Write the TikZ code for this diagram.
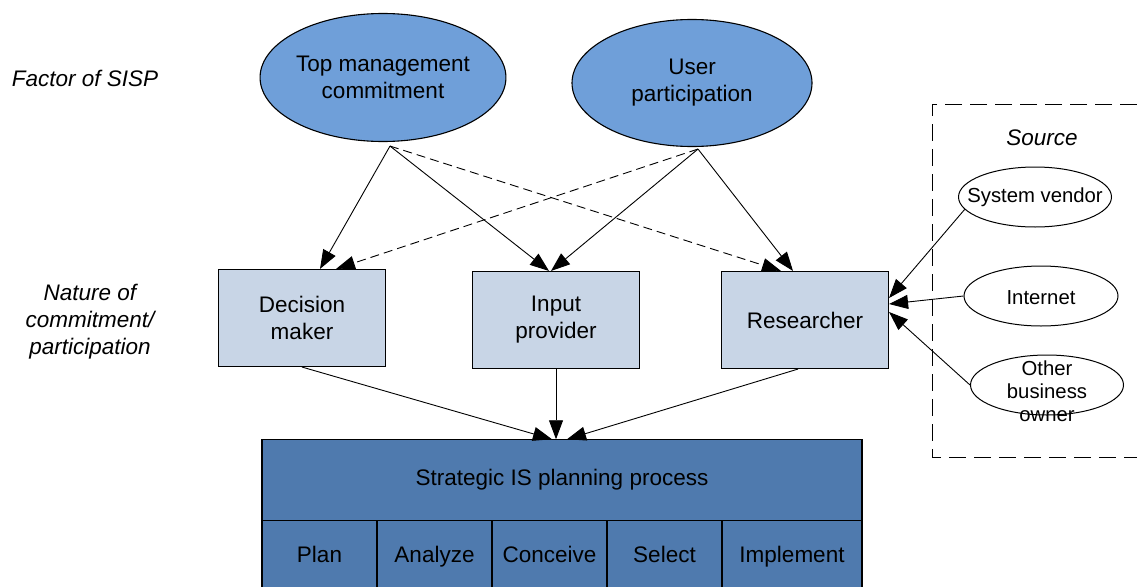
\documentclass[tikz,border=0pt]{standalone}
\usepackage{fontspec}
\setmainfont{Liberation Sans}
\usetikzlibrary{positioning,shapes.geometric,arrows.meta}
\definecolor{factorfill}{HTML}{6F9FD9}
\definecolor{naturefill}{HTML}{C8D5E6}
\definecolor{processfill}{HTML}{4F7AAE}

\begin{document}
\begin{tikzpicture}[x=1pt, y=-1pt,
  bigtext/.style={font=\fontsize{22.5}{27}\selectfont},
  factor/.style={draw, ellipse, fill=factorfill, line width=1.1pt, inner sep=0pt, align=center, bigtext},
  nature/.style={draw, fill=naturefill, line width=1.1pt, minimum width=167pt, minimum height=97pt, align=center, bigtext},
  srcell/.style={draw, ellipse, fill=white, line width=1pt, minimum width=153pt, minimum height=60pt, inner sep=0pt},
  srctext/.style={align=center, inner sep=0pt, font=\fontsize{20.3}{23}\selectfont},
  cell/.style={draw, fill=processfill, line width=1.1pt, minimum height=72pt, inner sep=0pt, outer sep=0pt, text height=16pt, text depth=4pt, bigtext},
  side/.style={align=center, font=\fontsize{22.5}{27}\selectfont\itshape},
  arrow/.style={->, >={Triangle[length=19pt,width=14pt]}, line width=0.9pt},
  dashy/.style={dash pattern=on 9pt off 5pt}
]
\useasboundingbox (0,0) rectangle (1137,586);

\node[side] (factorlbl) at (85,78) {Factor of SISP};
\node[side] (naturelbl) at (90,322) {Nature of\\commitment/\\participation};

\node[factor, minimum width=243pt, minimum height=128pt] (tmc) at (383,77.5) {Top management\\commitment};
\node[factor, minimum width=240pt, minimum height=127pt] (up) at (692,83) {User\\participation};

\node[nature] (dm) at (302,318) {Decision\\maker};
\node[nature] (ip) at (556,320) {Input\\provider};
\node[nature] (res) at (805,320) {Researcher};

\node[draw, fill=processfill, line width=1.1pt, outer sep=0pt, minimum width=600pt, minimum height=81.5pt, bigtext] (sisp) at (562,480) {Strategic IS planning process};
\node[cell, minimum width=115pt, anchor=north west] (plan) at (sisp.south west) {Plan};
\node[cell, minimum width=115pt, right=0pt of plan] (analyze) {Analyze};
\node[cell, minimum width=115pt, right=0pt of analyze] (conceive) {Conceive};
\node[cell, minimum width=115pt, right=0pt of conceive] (select) {Select};
\node[cell, minimum width=140pt, right=0pt of select] (implement) {Implement};

%source box
\draw[line width=1pt, dash pattern=on 17pt off 8pt] (1137,104) -- (932,104) -- (932,457) -- (1137,457);
\node[side] (srclbl) at (1042,138) {Source};
\node[srcell, label={[srctext]center:System vendor}] (sv) at (1035,197) {};
\node[srcell, minimum width=154pt, label={[srctext, yshift=-2pt]center:Internet}] (inet) at (1041,296) {};
\node[srcell, label={[srctext, yshift=-6pt]center:Other\\business\\owner}] (ob) at (1047,385) {};

%set start points under the ellipses
\coordinate (tmcs) at ([xshift=7pt,yshift=-4pt]tmc.south);
\coordinate (ups) at ([xshift=6pt,yshift=-2pt]up.south);

\draw[arrow] (tmcs) -- ([xshift=18pt]dm.north);
\draw[arrow] (tmcs) -- ([xshift=-7pt]ip.north);
\draw[arrow, dashy] (tmcs) -- ([xshift=-24pt]res.north);
\draw[arrow, dashy] (ups) -- ([xshift=34pt]dm.north);
\draw[arrow] (ups) -- ([xshift=-5pt]ip.north);
\draw[arrow] (ups) -- ([xshift=-12pt]res.north);

\draw[arrow] (dm.south) -- ([xshift=-10pt]sisp.north);
\draw[arrow] (ip.south) -- ([xshift=-6pt]sisp.north);
\draw[arrow] ([xshift=-7pt]res.south) -- ([xshift=5pt]sisp.north);

\draw[arrow] (sv.190) -- ([yshift=22pt]res.east);
\draw[arrow] (inet.west) -- ([yshift=16pt]res.east);
\draw[arrow] (ob.west) -- ([yshift=8pt]res.east);
\end{tikzpicture}
\end{document}
